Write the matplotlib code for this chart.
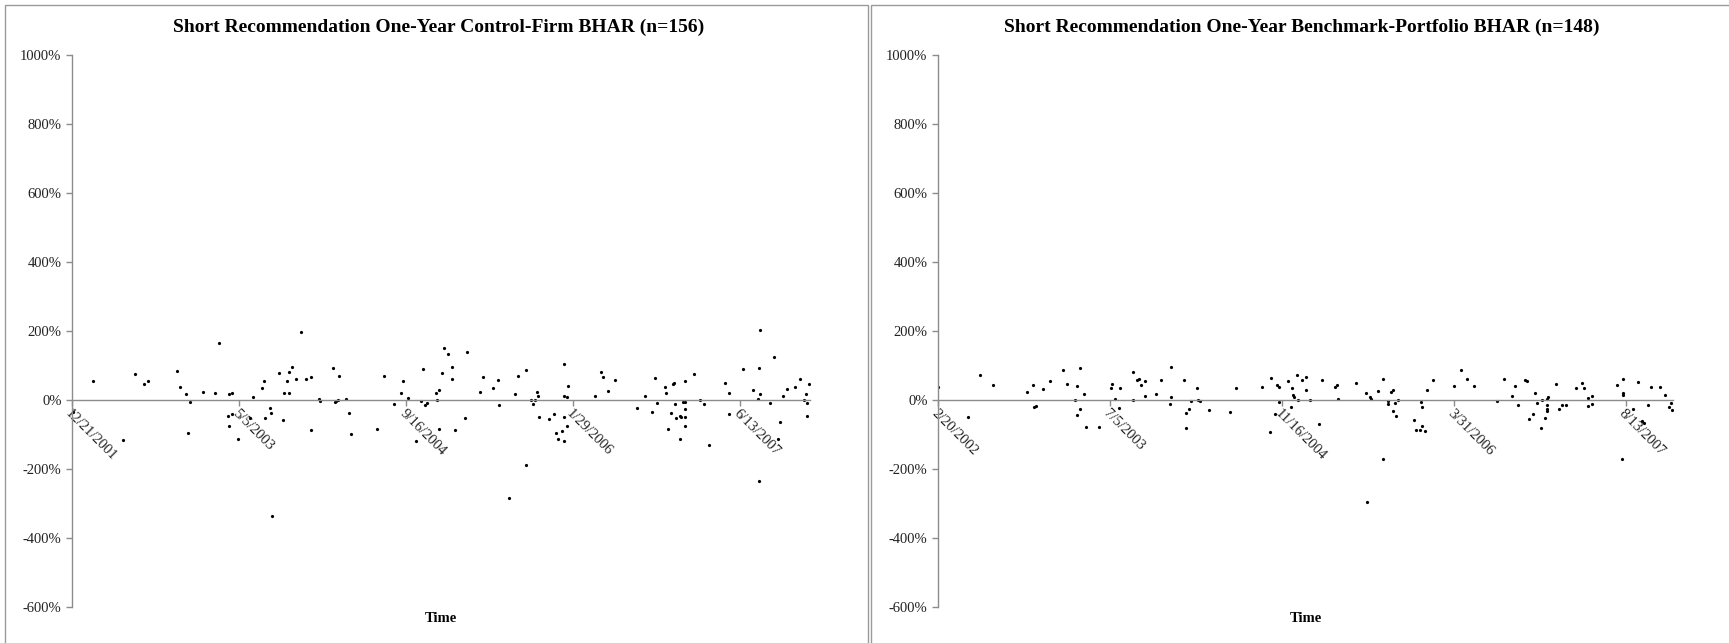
import numpy as np
import pandas as pd
import matplotlib
matplotlib.use("Agg")
import matplotlib.pyplot as plt
from matplotlib.patches import Rectangle

plt.rcParams['font.family'] = ['Liberation Serif', 'DejaVu Serif']

# Excel date serials (days since 1899-12-30) and BHAR values in percent
cf_dates = [37248, 37310, 37399, 37434, 37462, 37472, 37559, 37570, 37588, 37592,
            37598, 37637, 37673, 37685, 37712, 37716, 37716, 37725, 37725, 37742,
            37780, 37788, 37814, 37820, 37825, 37838, 37842, 37844, 37865, 37879,
            37880, 37891, 37897, 37897, 37904, 37915, 37931, 37945, 37960, 37962,
            37984, 37988, 38027, 38033, 38037, 38043, 38045, 38066, 38074, 38080,
            38160, 38179, 38211, 38232, 38236, 38253, 38276, 38290, 38298, 38302,
            38309, 38335, 38339, 38344, 38346, 38354, 38359, 38370, 38383, 38383,
            38393, 38421, 38429, 38468, 38475, 38507, 38522, 38525, 38555, 38572,
            38582, 38605, 38605, 38620, 38627, 38632, 38638, 38640, 38645, 38673,
            38688, 38694, 38700, 38712, 38718, 38718, 38719, 38719, 38728, 38729,
            38731, 38812, 38829, 38834, 38851, 38872, 38936, 38961, 38982, 38991,
            38998, 39021, 39025, 39030, 39039, 39045, 39049, 39051, 39055, 39065,
            39065, 39068, 39074, 39080, 39082, 39082, 39082, 39080, 39109, 39125,
            39137, 39152, 39202, 39214, 39214, 39255, 39284, 39299, 39302, 39303,
            39305, 39305, 39334, 39346, 39358, 39366, 39375, 39386, 39409, 39426,
            39438, 39443, 39446, 39447, 39451]
cf_bhar = [-34, 55, -117, 74, 47, 55, 84, 37, 17, -97,
           -7, 23, 20, 166, -47, -75, 17, 20, -42, -114,
           -51, 10, 34, 55, -53, -24, -37, -336, 79, -58,
           19, 54, 20, 81, 95, 62, 198, 60, 68, -86,
           3, -3, 93, -6, -3, 0, 69, 2, -39, -98,
           -85, 70, -11, 19, 54, 5, -120, -3, 89, -14,
           -10, 19, 0, -85, 28, 79, 151, 133, 97, 62,
           -87, -53, 138, 23, 67, 34, 59, -15, -283, 17,
           71, 86, -189, 0, -13, 0, 23, 11, -50, -54,
           -42, -95, -112, -89, -50, 13, 103, -120, -74, 9,
           41, 11, 80, 66, 26, 58, -22, 11, -36, 65,
           -10, 38, 20, -85, -39, 45, 50, -13, -51, -114,
           -45, -50, -7, 55, -27, -49, -7, -75, 75, 1,
           -13, -131, 50, 20, -42, 89, 29, 2, -235, 93,
           17, 204, -8, 126, -112, -63, 11, 33, 37, 61,
           0, 18, -47, -9, 45]

bp_dates = [37307, 37393, 37429, 37468, 37566, 37583, 37587, 37593, 37611, 37633,
            37670, 37681, 37705, 37711, 37711, 37719, 37721, 37731, 37737, 37776,
            37809, 37814, 37821, 37832, 37835, 37873, 37874, 37886, 37892, 37898,
            37910, 37910, 37941, 37955, 37981, 37984, 37985, 38023, 38027, 38028,
            38038, 38042, 38059, 38062, 38069, 38095, 38155, 38172, 38249, 38272,
            38275, 38287, 38293, 38299, 38299, 38325, 38332, 38335, 38340, 38341,
            38350, 38354, 38365, 38378, 38378, 38388, 38415, 38423, 38462, 38468,
            38469, 38522, 38552, 38554, 38563, 38567, 38587, 38600, 38600, 38614,
            38614, 38623, 38630, 38630, 38636, 38640, 38644, 38691, 38697, 38707,
            38712, 38714, 38714, 38723, 38728, 38745, 38808, 38829, 38846, 38866,
            38933, 38954, 38977, 38986, 38994, 39015, 39020, 39024, 39037, 39043,
            39048, 39060, 39062, 39071, 39077, 39077, 39078, 39079, 39082, 39104,
            39112, 39120, 39132, 39163, 39178, 39184, 39196, 39197, 39208, 39208,
            39280, 39297, 39300, 39300, 39300, 39329, 39342, 39354, 39360, 39372,
            39381, 39405, 39421, 39432, 39438, 39442]
bp_bhar = [39, -48, 72, 43, 22, 43, -19, -18, 33, 54,
           88, 45, 0, 41, -43, 92, -27, 18, -79, -78,
           35, 45, 3, -23, 35, 0, 82, 59, 62, 43,
           55, 13, 17, 57, -11, 95, 9, 57, -37, -82,
           -25, -3, 35, 0, -3, -30, -34, 35, 38, -93,
           64, -42, 43, 37, -7, 56, -19, 36, 14, 9,
           73, 0, 58, 68, 29, 0, -71, 58, 38, 43,
           3, 50, 20, -295, 9, 4, 26, 62, -170, -3,
           -13, 23, 30, -32, -10, -45, 1, -57, -88, -87,
           -5, -19, -75, -90, 29, 58, 40, 88, 60, 42,
           -4, 61, 13, 40, -14, 57, 55, -54, -41, 19,
           -10, -82, 0, -52, -15, -27, -33, 2, 9, 45,
           -27, -15, -15, 34, 49, 35, 7, -16, 11, -13,
           44, -170, 62, 21, 14, -26, 53, -61, -67, -15,
           37, 38, 14, -19, -8, -29]

titles = ["Short Recommendation One-Year Control-Firm BHAR (n=156)",
          "Short Recommendation One-Year Benchmark-Portfolio BHAR (n=148)"]
x_starts = [37246, 37307]   # first x tick (axis minimum)
x_ends = [39455, 39444]
y_ticks = [-600, -400, -200, 0, 200, 400, 600, 800, 1000]

W, H = 1729, 643
fig = plt.figure(figsize=(W / 100, H / 100), dpi=100)

# panel borders (Excel chart areas)
fig.patches.append(Rectangle((5 / W, -0.05), 863 / W, 1 - 5 / H + 0.05,
                             transform=fig.transFigure, fill=False,
                             edgecolor='#9a9a9a', linewidth=1))
fig.patches.append(Rectangle((871 / W, -0.05), 870 / W, 1 - 5 / H + 0.05,
                             transform=fig.transFigure, fill=False,
                             edgecolor='#9a9a9a', linewidth=1))

ax_rects = [(72, 810), (938, 1673)]
title_x = [439, 1302]
series = [(cf_dates, cf_bhar), (bp_dates, bp_bhar)]

for i in range(2):
    x0, x1 = ax_rects[i]
    ax = fig.add_axes([x0 / W, 1 - 607 / H, (x1 - x0) / W, (607 - 55) / H])
    d, v = series[i]
    ax.plot(d, v, linestyle='none', marker='o', markersize=2.3,
            color='black', markeredgewidth=0)
    ax.spines['top'].set_visible(False)
    ax.spines['right'].set_visible(False)
    ax.spines['bottom'].set_position(('data', 0))
    for s in ['left', 'bottom']:
        ax.spines[s].set_color('#8c8c8c')
        ax.spines[s].set_linewidth(1)
    ax.set_ylim(-600, 1000)
    ax.set_xlim(x_starts[i], x_ends[i])
    ax.set_yticks(y_ticks)
    ax.set_yticklabels([f"{t}%" for t in y_ticks])
    xt = [x_starts[i] + 500 * k for k in range(5)]
    ax.set_xticks(xt)
    dts = pd.to_datetime(xt, unit='D', origin='1899-12-30')
    ax.set_xticklabels([f"{t.month}/{t.day}/{t.year}" for t in dts])
    ax.tick_params(axis='both', direction='out', length=4, color='#8c8c8c',
                   labelsize=10.5, labelcolor='#222222', width=1)
    ax.tick_params(axis='x', pad=1)
    for lab in ax.get_xticklabels():
        lab.set_rotation(-45)
        lab.set_ha('left')
        lab.set_va('top')
        lab.set_rotation_mode('anchor')
    ax.patch.set_alpha(0)
    fig.text(title_x[i] / W, 1 - 27 / H, titles[i], ha='center', va='center',
             fontsize=14, fontweight='bold')
    fig.text((x0 + x1) / 2 / W, 1 - 619 / H, "Time", ha='center', va='center',
             fontsize=10.5, fontweight='bold')

fig.savefig("out.png", dpi=100)
